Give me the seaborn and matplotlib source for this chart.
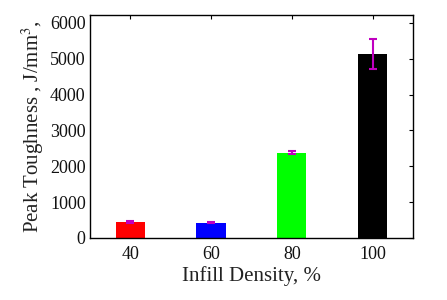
import matplotlib
matplotlib.use("Agg")
import matplotlib.pyplot as plt
import seaborn as sns
import pandas as pd

categories = ["40", "60", "80", "100"]
values = [455, 427, 2372, 5135]
errors = [30, 25, 40, 420]
colors = ["#ff0000", "#0000ff", "#00ff00", "#000000"]

sns.set_style("white")
plt.rcParams["font.family"] = ["Liberation Serif", "DejaVu Serif"]
plt.rcParams["mathtext.fontset"] = "stix"

df = pd.DataFrame({"density": categories, "toughness": values})
fig = plt.figure(figsize=(4.47, 3.0), dpi=100)
ax = fig.add_axes([0.201, 0.207, 0.723, 0.743])
sns.barplot(data=df, x="density", y="toughness", hue="density", palette=colors,
            width=0.36, legend=False, ax=ax, saturation=1, edgecolor="none")
ax.errorbar(range(len(categories)), values, yerr=errors, fmt="none",
            ecolor="#c000c0", elinewidth=1.5, capsize=3, capthick=1.5)
ax.set_xlim(-0.5, 3.5)
ax.set_ylim(0, 6220)
ax.set_yticks([0, 1000, 2000, 3000, 4000, 5000, 6000])
ax.set_xlabel("Infill Density, %", fontsize=15, color="#222222", labelpad=2)
ax.set_ylabel("Peak Toughness , J/mm$^3$,", fontsize=15, color="#222222", labelpad=3)
ax.tick_params(axis="both", labelsize=13, direction="in", length=3,
               right=True, top=True, colors="black", labelcolor="#111111")
ax.tick_params(axis="x", pad=6)
ax.tick_params(axis="y", pad=3)
for s in ax.spines.values():
    s.set_visible(True)
    s.set_color("black")
    s.set_linewidth(1)
fig.savefig("out.png", dpi=100)
